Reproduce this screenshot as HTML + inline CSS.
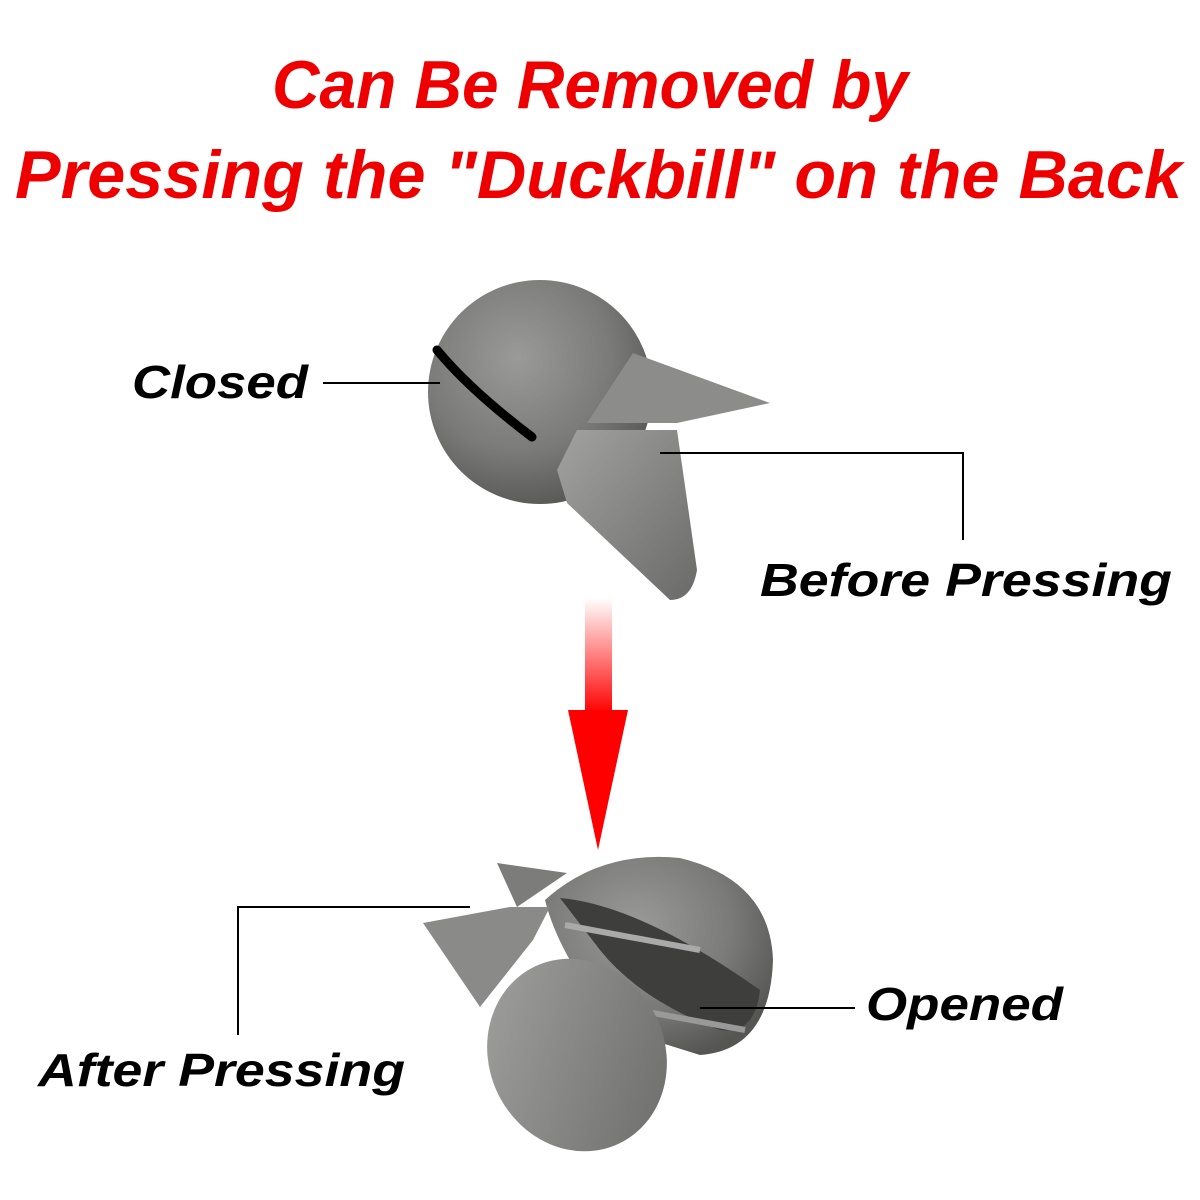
<!DOCTYPE html>
<html><head><meta charset="utf-8"><style>
html,body{margin:0;padding:0;background:#fff;}
svg{display:block}
</style></head><body>
<svg width="1200" height="1200" viewBox="0 0 1200 1200" xmlns="http://www.w3.org/2000/svg">
<defs>
<radialGradient id="g1" cx="0.4" cy="0.35" r="0.7">
<stop offset="0" stop-color="#9a9a98"/><stop offset="0.6" stop-color="#7a7a78"/><stop offset="1" stop-color="#555553"/>
</radialGradient>
<linearGradient id="g2" x1="0" y1="0" x2="1" y2="1">
<stop offset="0" stop-color="#a2a2a0"/><stop offset="1" stop-color="#6a6a68"/>
</linearGradient>
<linearGradient id="shaft" x1="0" y1="0" x2="0" y2="1">
<stop offset="0" stop-color="#ff0000" stop-opacity="0"/><stop offset="1" stop-color="#ff0000"/>
</linearGradient>
</defs>
<g font-family="Liberation Sans, sans-serif" font-weight="bold" font-style="italic">
<text x="272" y="108" font-size="68" fill="#ee0000" textLength="636" lengthAdjust="spacingAndGlyphs">Can Be Removed by</text>
<text x="15" y="198" font-size="68" fill="#ee0000" textLength="1167" lengthAdjust="spacingAndGlyphs">Pressing the "Duckbill" on the Back</text>
<text x="132" y="398" font-size="46" fill="#000" textLength="176" lengthAdjust="spacingAndGlyphs">Closed</text>
<text x="760" y="596" font-size="46" fill="#000" textLength="412" lengthAdjust="spacingAndGlyphs">Before Pressing</text>
<text x="38" y="1086" font-size="46" fill="#000" textLength="367" lengthAdjust="spacingAndGlyphs">After Pressing</text>
<text x="866" y="1020" font-size="46" fill="#000" textLength="197" lengthAdjust="spacingAndGlyphs">Opened</text>
</g>
<!-- sinker 1 -->
<circle cx="540" cy="392" r="112" fill="url(#g1)"/>
<path d="M437 350 Q470 390 532 437" stroke="#000" stroke-width="9" fill="none" stroke-linecap="round"/>
<path d="M557 470 L577 430 L677 430 L697 570 Q692 600 670 600 L567 503 Z" fill="url(#g2)"/>
<path d="M587 423 L633 353 L770 403 L677 423 Z" fill="#8c8c8a"/>
<!-- sinker 2 -->
<path d="M497 863 L567 873 L517 907 Z" fill="#7c7c7a"/>
<path d="M545 900 Q600 850 680 858 Q770 880 773 960 Q770 1050 700 1055 L620 1030 Q560 960 545 900 Z" fill="url(#g1)"/>
<path d="M560 898 Q640 905 760 990 Q755 1035 720 1030 Q640 1000 600 950 Z" fill="#3e3e3c"/>
<path d="M565 925 L700 950" stroke="#aaa" stroke-width="6"/>
<path d="M610 1005 L745 1030" stroke="#999" stroke-width="6"/>
<path d="M423 923 L510 907 L550 907 L533 940 L480 1007 Z" fill="#8a8a88"/>
<ellipse cx="577" cy="1055" rx="88" ry="98" transform="rotate(-25 577 1055)" fill="url(#g2)"/>
<!-- connectors -->
<g stroke="#000" stroke-width="2" fill="none">
<path d="M323 383 H440"/>
<path d="M660 453 H963 V540"/>
<path d="M238 1035 V907 H470"/>
<path d="M700 1008 H855"/>
</g>
<!-- arrow -->
<rect x="585" y="598" width="27" height="115" fill="url(#shaft)"/>
<path d="M568 710 L628 710 L598 850 Z" fill="#ff0000"/>
</svg>
</body></html>
